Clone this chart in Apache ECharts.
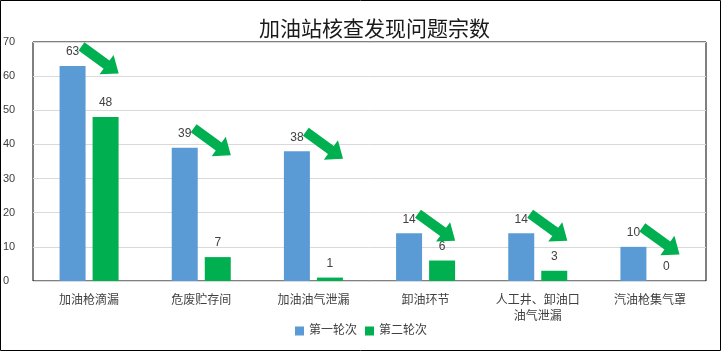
<!DOCTYPE html>
<html>
<head>
<meta charset="utf-8">
<script src="https://cdn.jsdelivr.net/npm/echarts@6/dist/echarts.min.js"></script>
<style>
html,body{margin:0;padding:0;background:#fff;}
#c{width:722px;height:352px;}
</style>
</head>
<body>
<div id="c"></div>
<script>
const titleText = '加油站核查发现问题宗数';
const categories = ['加油枪滴漏', '危废贮存间', '加油油气泄漏', '卸油环节', '人工井、卸油口\n油气泄漏', '汽油枪集气罩'];
const seriesNames = ['第一轮次', '第二轮次'];
const round1 = [63, 39, 38, 14, 14, 10];
const round2 = [48, 7, 1, 6, 3, 0];
const yTicks = [0, 10, 20, 30, 40, 50, 60, 70];

const FONT = '"Liberation Sans", "Noto Sans CJK SC", sans-serif';
const chart = echarts.init(document.getElementById('c'), null, {renderer: 'canvas'});

function arrowItem(params, api) {
  const p = api.coord([api.value(0), api.value(1)]);
  const cx = p[0] + 11, cy = p[1] - 6;
  const L = 46, head = 15, tw = 5, hw = 12;
  const th = 36 * Math.PI / 180;
  const c = Math.cos(th), s = Math.sin(th);
  const local = [
    [-L/2, -tw], [L/2 - head, -tw], [L/2 - head, -hw], [L/2, 0],
    [L/2 - head, hw], [L/2 - head, tw], [-L/2, tw]
  ];
  const pts = local.map(([x, y]) => [cx + x * c - y * s, cy + x * s + y * c]);
  return {type: 'polygon', shape: {points: pts}, style: {fill: '#00B050'}};
}

chart.setOption({
  animation: false,
  textStyle: {fontFamily: FONT},
  title: {
    text: titleText, left: 254, top: 13,
    textStyle: {fontSize: 21, fontWeight: 'normal', color: '#1a1a1a', fontFamily: '"Noto Sans CJK SC", sans-serif'}
  },
  graphic: [{
    type: 'rect', shape: {x: 0.5, y: 0.5, width: 720, height: 350},
    style: {fill: 'none', stroke: '#000', lineWidth: 1}, silent: true, z: 100
  }],
  legend: {
    data: seriesNames, bottom: 10, left: 'center', itemWidth: 9, itemHeight: 9, itemGap: 8,
    icon: 'rect', textStyle: {fontSize: 12, color: '#404040', fontFamily: FONT}
  },
  grid: {
    left: 30, right: 16, top: 42, bottom: 71, show: true,
    borderColor: '#000', borderWidth: 1, backgroundColor: 'transparent', containLabel: false
  },
  xAxis: {
    type: 'category', data: categories,
    axisLine: {show: false}, axisTick: {show: false},
    axisLabel: {interval: 0, fontSize: 12, color: '#404040', margin: 12, lineHeight: 16, fontFamily: FONT}
  },
  yAxis: {
    type: 'value', min: yTicks[0], max: yTicks[yTicks.length - 1], interval: 10,
    axisLine: {show: false}, axisTick: {show: false},
    axisLabel: {fontSize: 11, color: '#404040', margin: 8, fontFamily: FONT, align: 'left', padding: [0, 0, 0, -22]},
    splitLine: {lineStyle: {color: '#d9d9d9', width: 1}}
  },
  series: [
    {
      name: seriesNames[0], type: 'bar', data: round1, barWidth: 26, barGap: '27%',
      itemStyle: {color: '#5B9BD5'},
      label: {show: true, position: 'top', distance: 8, fontSize: 12, color: '#404040', fontFamily: FONT}
    },
    {
      name: seriesNames[1], type: 'bar', data: round2, barWidth: 26,
      itemStyle: {color: '#00B050'},
      label: {show: true, position: 'top', distance: 8, fontSize: 12, color: '#404040', fontFamily: FONT}
    },
    {
      type: 'custom', renderItem: arrowItem, silent: true, z: 10,
      data: round1.map((v, i) => [i, v]), encode: {x: 0, y: 1}, tooltip: {show: false}
    }
  ]
});
</script>
</body>
</html>
